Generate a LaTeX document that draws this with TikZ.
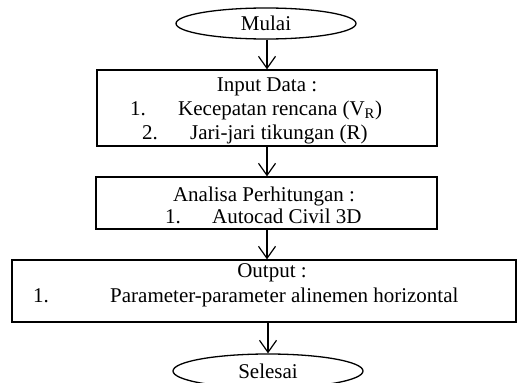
\documentclass[tikz,border=0pt]{standalone}
\usepackage{fontspec}
\setmainfont{Liberation Serif}
\usetikzlibrary{shapes.geometric,arrows.meta}
\begin{document}
\begin{tikzpicture}[x=1pt,y=-1pt,
  every node/.style={font=\fontsize{21}{24}\selectfont},
  term/.style={draw, line width=1.3pt, ellipse, inner sep=0pt},
  procbox/.style={draw, line width=1.3pt, rectangle, inner sep=0pt},
  txt/.style={inner sep=0pt, anchor=base west},
  ctxt/.style={inner sep=0pt, anchor=base},
  flow/.style={line width=1.2pt, -{Straight Barb[length=12pt,width=17pt,line width=1.2pt]}}]
\useasboundingbox (0,0) rectangle (517,383);
% shapes
\node[term, minimum width=180pt, minimum height=31pt] (mulai) at (266,23.5) {Mulai};
\node[procbox, minimum width=340pt, minimum height=76pt] (input) at (267,108) {};
\node[procbox, minimum width=341pt, minimum height=52pt] (analisa) at (266.5,203) {};
\node[procbox, minimum width=504pt, minimum height=62pt] (output) at (264,291) {};
\node[term, minimum width=190pt, minimum height=34pt] (selesai) at (268,371) {Selesai};
% texts
\node[ctxt] (t1) at (267,91) {Input Data :};
\node[txt] (n1) at (130,115) {1.};
\node[txt] (t2) at (178,115) {Kecepatan rencana (V\textsubscript{R})};
\node[txt] (n2) at (142,139) {2.};
\node[txt] (t3) at (190,139) {Jari-jari tikungan (R)};
\node[ctxt] (t4) at (264,201) {Analisa Perhitungan :};
\node[txt] (n3) at (165,223) {1.};
\node[txt] (t5) at (212,223) {Autocad Civil 3D};
\node[ctxt] (t6) at (272,277) {Output :};
\node[txt] (n4) at (33,302) {1.};
\node[txt] (t7) at (110,302) {Parameter-parameter alinemen horizontal};
% connectors
\draw[flow] (mulai.south -| input.north) -- (input.north);
\draw[flow] (input.south) -- (analisa.north -| input.south);
\draw[flow] (analisa.south -| input.south) -- (output.north -| input.south);
\draw[flow] (output.south -| selesai.north) -- (selesai.north);
\end{tikzpicture}
\end{document}
